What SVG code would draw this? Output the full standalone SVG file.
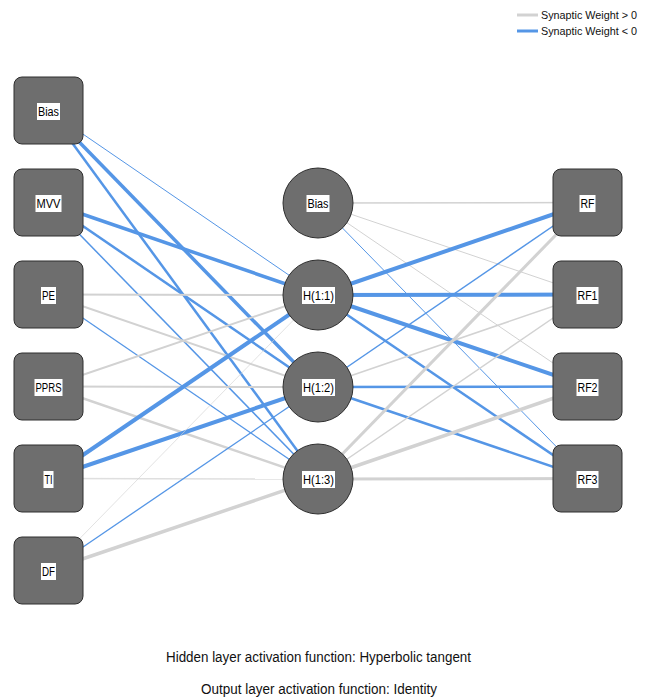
<svg xmlns="http://www.w3.org/2000/svg" width="657" height="700" viewBox="0 0 657 700">
  <style>
    .pos { stroke: #d2d2d2; fill: none; }
    .neg { stroke: #5596e6; fill: none; }
    .node { fill: #6e6e6e; stroke: #2e2e2e; stroke-width: 1; }
    .lbl { fill: #ffffff; }
    .txt { font-family: "Liberation Sans", Arial, sans-serif; font-size: 12px; fill: #000; text-anchor: middle; }
    .leg { font-family: "Liberation Sans", Arial, sans-serif; font-size: 11.5px; fill: #111; }
    .note { font-family: "Liberation Sans", Arial, sans-serif; font-size: 14px; fill: #111; text-anchor: middle; }
  </style>
  <rect width="657" height="700" fill="#ffffff"/>

  <!-- legend -->
  <g id="legend">
    <line x1="517" y1="15" x2="538" y2="15" class="pos" stroke-width="3"/>
    <text x="541" y="19" class="leg" textLength="96" lengthAdjust="spacingAndGlyphs">Synaptic Weight &gt; 0</text>
    <line x1="517" y1="31" x2="538" y2="31" class="neg" stroke-width="3"/>
    <text x="541" y="35" class="leg" textLength="96" lengthAdjust="spacingAndGlyphs">Synaptic Weight &lt; 0</text>
  </g>

  <!-- connectors (center to center, drawn under the nodes) -->
  <g id="connectors">
    <!-- input layer to hidden layer -->
    <line x1="48.5" y1="110.5" x2="318" y2="295" class="neg" stroke-width="1"/>
    <line x1="48.5" y1="110.5" x2="318" y2="387" class="neg" stroke-width="3.5"/>
    <line x1="48.5" y1="110.5" x2="318" y2="479" class="neg" stroke-width="2.5"/>
    <line x1="48.5" y1="202.5" x2="318" y2="295" class="neg" stroke-width="3.5"/>
    <line x1="48.5" y1="202.5" x2="318" y2="387" class="neg" stroke-width="2.5"/>
    <line x1="48.5" y1="202.5" x2="318" y2="479" class="neg" stroke-width="1.5"/>
    <line x1="48.5" y1="294.5" x2="318" y2="295" class="pos" stroke-width="2"/>
    <line x1="48.5" y1="294.5" x2="318" y2="387" class="pos" stroke-width="2"/>
    <line x1="48.5" y1="294.5" x2="318" y2="479" class="neg" stroke-width="1.3"/>
    <line x1="48.5" y1="386.5" x2="318" y2="295" class="pos" stroke-width="2"/>
    <line x1="48.5" y1="386.5" x2="318" y2="387" class="pos" stroke-width="2"/>
    <line x1="48.5" y1="386.5" x2="318" y2="479" class="pos" stroke-width="2.5"/>
    <line x1="48.5" y1="478.5" x2="318" y2="295" class="neg" stroke-width="4"/>
    <line x1="48.5" y1="478.5" x2="318" y2="387" class="neg" stroke-width="4"/>
    <line x1="48.5" y1="478.5" x2="318" y2="479" class="pos" stroke-width="1.5" stroke-opacity="0.7"/>
    <line x1="48.5" y1="570.5" x2="318" y2="295" class="pos" stroke-width="0.8" stroke-opacity="0.8"/>
    <line x1="48.5" y1="570.5" x2="318" y2="387" class="neg" stroke-width="1.3"/>
    <line x1="48.5" y1="570.5" x2="318" y2="479" class="pos" stroke-width="3.5"/>
    <!-- hidden layer to output layer -->
    <line x1="318" y1="203" x2="587.5" y2="202.5" class="pos" stroke-width="1.5"/>
    <line x1="318" y1="203" x2="587.5" y2="294.5" class="pos" stroke-width="1"/>
    <line x1="318" y1="203" x2="587.5" y2="386.5" class="pos" stroke-width="1"/>
    <line x1="318" y1="203" x2="587.5" y2="478.5" class="neg" stroke-width="1"/>
    <line x1="318" y1="295" x2="587.5" y2="202.5" class="neg" stroke-width="4"/>
    <line x1="318" y1="295" x2="587.5" y2="294.5" class="neg" stroke-width="4"/>
    <line x1="318" y1="295" x2="587.5" y2="386.5" class="neg" stroke-width="4"/>
    <line x1="318" y1="295" x2="587.5" y2="478.5" class="neg" stroke-width="2.5"/>
    <line x1="318" y1="387" x2="587.5" y2="202.5" class="neg" stroke-width="1.5"/>
    <line x1="318" y1="387" x2="587.5" y2="294.5" class="pos" stroke-width="1.5"/>
    <line x1="318" y1="387" x2="587.5" y2="386.5" class="neg" stroke-width="2.5"/>
    <line x1="318" y1="387" x2="587.5" y2="478.5" class="neg" stroke-width="2.5"/>
    <line x1="318" y1="479" x2="587.5" y2="202.5" class="pos" stroke-width="3"/>
    <line x1="318" y1="479" x2="587.5" y2="294.5" class="pos" stroke-width="1.5"/>
    <line x1="318" y1="479" x2="587.5" y2="386.5" class="pos" stroke-width="3.5"/>
    <line x1="318" y1="479" x2="587.5" y2="478.5" class="pos" stroke-width="3"/>
  </g>

  <!-- input layer -->
  <g id="in-bias">
    <rect x="14" y="77" width="69" height="67" rx="8" class="node"/>
    <rect x="37" y="103" width="23" height="17" class="lbl"/>
    <text x="48.5" y="116" class="txt" textLength="21" lengthAdjust="spacingAndGlyphs">Bias</text>
  </g>
  <g id="in-mvv">
    <rect x="14" y="169" width="69" height="67" rx="8" class="node"/>
    <rect x="35.5" y="195" width="26" height="17" class="lbl"/>
    <text x="48.5" y="208" class="txt" textLength="24" lengthAdjust="spacingAndGlyphs">MVV</text>
  </g>
  <g id="in-pe">
    <rect x="14" y="261" width="69" height="67" rx="8" class="node"/>
    <rect x="41" y="287" width="15" height="17" class="lbl"/>
    <text x="48.5" y="300" class="txt" textLength="13" lengthAdjust="spacingAndGlyphs">PE</text>
  </g>
  <g id="in-pprs">
    <rect x="14" y="353" width="69" height="67" rx="8" class="node"/>
    <rect x="34.5" y="379" width="28" height="17" class="lbl"/>
    <text x="48.5" y="392" class="txt" textLength="26" lengthAdjust="spacingAndGlyphs">PPRS</text>
  </g>
  <g id="in-ti">
    <rect x="14" y="445" width="69" height="67" rx="8" class="node"/>
    <rect x="43.5" y="471" width="10" height="17" class="lbl"/>
    <text x="48.5" y="484" class="txt" textLength="8" lengthAdjust="spacingAndGlyphs">TI</text>
  </g>
  <g id="in-df">
    <rect x="14" y="537" width="69" height="67" rx="8" class="node"/>
    <rect x="41" y="563" width="15" height="17" class="lbl"/>
    <text x="48.5" y="576" class="txt" textLength="13" lengthAdjust="spacingAndGlyphs">DF</text>
  </g>

  <!-- hidden layer -->
  <g id="hid-bias">
    <circle cx="318" cy="203" r="35" class="node"/>
    <rect x="306.5" y="195" width="23" height="17" class="lbl"/>
    <text x="318" y="208" class="txt" textLength="21" lengthAdjust="spacingAndGlyphs">Bias</text>
  </g>
  <g id="hid-1">
    <circle cx="318" cy="295" r="35" class="node"/>
    <rect x="302" y="287" width="33" height="17" class="lbl"/>
    <text x="318.5" y="300" class="txt" textLength="31" lengthAdjust="spacingAndGlyphs">H(1:1)</text>
  </g>
  <g id="hid-2">
    <circle cx="318" cy="387" r="35" class="node"/>
    <rect x="302" y="379" width="33" height="17" class="lbl"/>
    <text x="318.5" y="392" class="txt" textLength="31" lengthAdjust="spacingAndGlyphs">H(1:2)</text>
  </g>
  <g id="hid-3">
    <circle cx="318" cy="479" r="35" class="node"/>
    <rect x="302" y="471" width="33" height="17" class="lbl"/>
    <text x="318.5" y="484" class="txt" textLength="31" lengthAdjust="spacingAndGlyphs">H(1:3)</text>
  </g>

  <!-- output layer -->
  <g id="out-rf">
    <rect x="553" y="169" width="69" height="67" rx="8" class="node"/>
    <rect x="579.5" y="195" width="16" height="17" class="lbl"/>
    <text x="587.5" y="208" class="txt" textLength="14" lengthAdjust="spacingAndGlyphs">RF</text>
  </g>
  <g id="out-rf1">
    <rect x="553" y="261" width="69" height="67" rx="8" class="node"/>
    <rect x="576.5" y="287" width="22" height="17" class="lbl"/>
    <text x="587.5" y="300" class="txt" textLength="20" lengthAdjust="spacingAndGlyphs">RF1</text>
  </g>
  <g id="out-rf2">
    <rect x="553" y="353" width="69" height="67" rx="8" class="node"/>
    <rect x="576.5" y="379" width="22" height="17" class="lbl"/>
    <text x="587.5" y="392" class="txt" textLength="20" lengthAdjust="spacingAndGlyphs">RF2</text>
  </g>
  <g id="out-rf3">
    <rect x="553" y="445" width="69" height="67" rx="8" class="node"/>
    <rect x="576.5" y="471" width="22" height="17" class="lbl"/>
    <text x="587.5" y="484" class="txt" textLength="20" lengthAdjust="spacingAndGlyphs">RF3</text>
  </g>

  <!-- activation function notes -->
  <text x="318.5" y="662" class="note" textLength="305" lengthAdjust="spacingAndGlyphs">Hidden layer activation function: Hyperbolic tangent</text>
  <text x="319" y="694" class="note" textLength="236" lengthAdjust="spacingAndGlyphs">Output layer activation function: Identity</text>
</svg>
